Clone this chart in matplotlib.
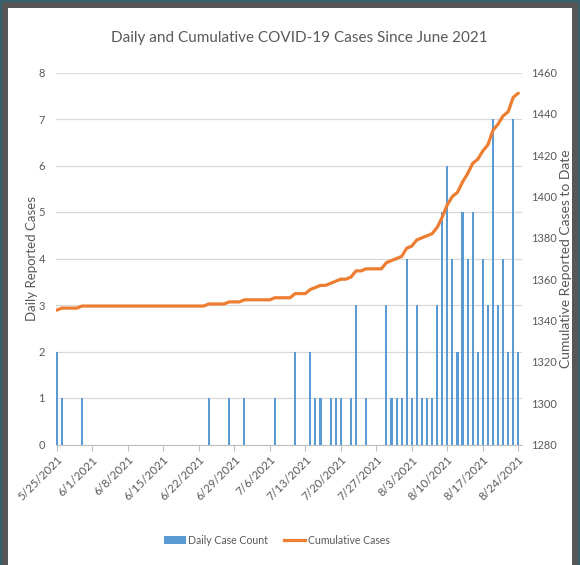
import matplotlib
matplotlib.use("Agg")
import matplotlib.pyplot as plt
import matplotlib.patches as mpatches
import matplotlib.lines as mlines
import pandas as pd

plt.rcParams['font.family'] = ['Lato', 'DejaVu Sans']

# ---- data ----
start_date = "2021-05-25"
end_date = "2021-08-24"
daily_cases = [
    2, 1, 0, 0, 0, 1, 0,
    0, 0, 0, 0, 0, 0, 0,
    0, 0, 0, 0, 0, 0, 0,
    0, 0, 0, 0, 0, 0, 0,
    0, 0, 1, 0, 0, 0, 1,
    0, 0, 1, 0, 0, 0, 0,
    0, 1, 0, 0, 0, 2, 0,
    0, 2, 1, 1, 0, 1, 1,
    1, 0, 1, 3, 0, 1, 0,
    0, 0, 3, 1, 1, 1, 4,
    1, 3, 1, 1, 1, 3, 5,
    6, 4, 2, 5, 4, 5, 2,
    4, 3, 7, 3, 4, 2, 7,
    2,
]
cumulative_cases = [
    1345, 1346, 1346, 1346, 1346, 1347, 1347,
    1347, 1347, 1347, 1347, 1347, 1347, 1347,
    1347, 1347, 1347, 1347, 1347, 1347, 1347,
    1347, 1347, 1347, 1347, 1347, 1347, 1347,
    1347, 1347, 1348, 1348, 1348, 1348, 1349,
    1349, 1349, 1350, 1350, 1350, 1350, 1350,
    1350, 1351, 1351, 1351, 1351, 1353, 1353,
    1353, 1355, 1356, 1357, 1357, 1358, 1359,
    1360, 1360, 1361, 1364, 1364, 1365, 1365,
    1365, 1365, 1368, 1369, 1370, 1371, 1375,
    1376, 1379, 1380, 1381, 1382, 1385, 1390,
    1396, 1400, 1402, 1407, 1411, 1416, 1418,
    1422, 1425, 1432, 1435, 1439, 1441, 1448,
    1450,
]
tick_labels = ["5/25/2021", "6/1/2021", "6/8/2021", "6/15/2021", "6/22/2021",
               "6/29/2021", "7/6/2021", "7/13/2021", "7/20/2021", "7/27/2021",
               "8/3/2021", "8/10/2021", "8/17/2021", "8/24/2021"]
left_ticks = [0, 1, 2, 3, 4, 5, 6, 7, 8]
right_ticks = [1280, 1300, 1320, 1340, 1360, 1380, 1400, 1420, 1440, 1460]

dates = pd.date_range(start_date, end_date)
tick_dates = pd.to_datetime(tick_labels, format="%m/%d/%Y")

W, H = 580, 565
fig = plt.figure(figsize=(W / 100, H / 100), dpi=100)
fig.patch.set_facecolor('#35616d')
fig.patches.append(mpatches.Rectangle((2 / W, 0), 1 - 4 / W, 1 - 2 / H,
                                      transform=fig.transFigure,
                                      facecolor='#575757', edgecolor='none', zorder=-20))
fig.patches.append(mpatches.Rectangle((8 / W, 0), 1 - 16 / W, 1 - 8 / H,
                                      transform=fig.transFigure,
                                      facecolor='white', edgecolor='none', zorder=-10))

left, right, top, bottom = 56, 522, 72.5, 444.5
ax = fig.add_axes([left / W, 1 - bottom / H, (right - left) / W, (bottom - top) / H])
ax.set_facecolor('none')
ax2 = ax.twinx()
ax2.set_facecolor('none')

gray = '#595959'
ax.bar(dates, daily_cases, width=0.42, color='#5b9bd5', zorder=2)
ax2.plot(dates, cumulative_cases, color='#ed7d31', lw=2.3, solid_capstyle='round')

ax.set_ylim(0, 8)
ax.set_yticks(left_ticks)
ax2.set_ylim(1280, 1460)
ax2.set_yticks(right_ticks)

x0 = dates[0] - pd.Timedelta(hours=3.5)
x1 = dates[-1] + pd.Timedelta(hours=17.5)
ax.set_xlim(x0, x1)

ax.yaxis.grid(True, color='#d9d9d9', lw=0.9)
ax.set_axisbelow(True)

for a in (ax, ax2):
    for s in a.spines.values():
        s.set_visible(False)
ax.spines['bottom'].set_visible(True)
ax.spines['bottom'].set_color('#bfbfbf')

ax.set_xticks(tick_dates)
ax.set_xticklabels(tick_labels, rotation=45, ha='right', rotation_mode='anchor')
ax.tick_params(axis='x', length=4, color='#bfbfbf', labelcolor=gray, labelsize=8.3, pad=3)
ax.tick_params(axis='y', length=0, labelcolor=gray, labelsize=8, pad=8)
ax2.tick_params(axis='y', length=0, labelcolor=gray, labelsize=8, pad=6.5)

ax.set_ylabel('Daily Reported Cases', color=gray, fontsize=9.5)
ax.yaxis.set_label_coords((38 - left) / (right - left), 0.5)
ax2.set_ylabel('Cumulative Reported Cases to Date', color=gray, fontsize=10)
ax2.yaxis.set_label_coords((560 - left) / (right - left), 0.5)

fig.text(299 / W, 1 - 38 / H, 'Daily and Cumulative COVID-19 Cases Since June 2021',
         ha='center', va='center', fontsize=11, color=gray)

h1 = mpatches.Patch(facecolor='#5b9bd5', edgecolor='none')
h2 = mlines.Line2D([], [], color='#ed7d31', lw=2.3)
fig.legend([h1, h2], ['Daily Case Count', 'Cumulative Cases'], loc='center',
           bbox_to_anchor=(277 / W, 1 - 540 / H), ncol=2, frameon=False,
           fontsize=7.6, handlelength=2.0, handleheight=0.75, handletextpad=0.25,
           columnspacing=1.5, labelcolor=gray)

fig.savefig('out.png', dpi=100, facecolor=fig.get_facecolor())
